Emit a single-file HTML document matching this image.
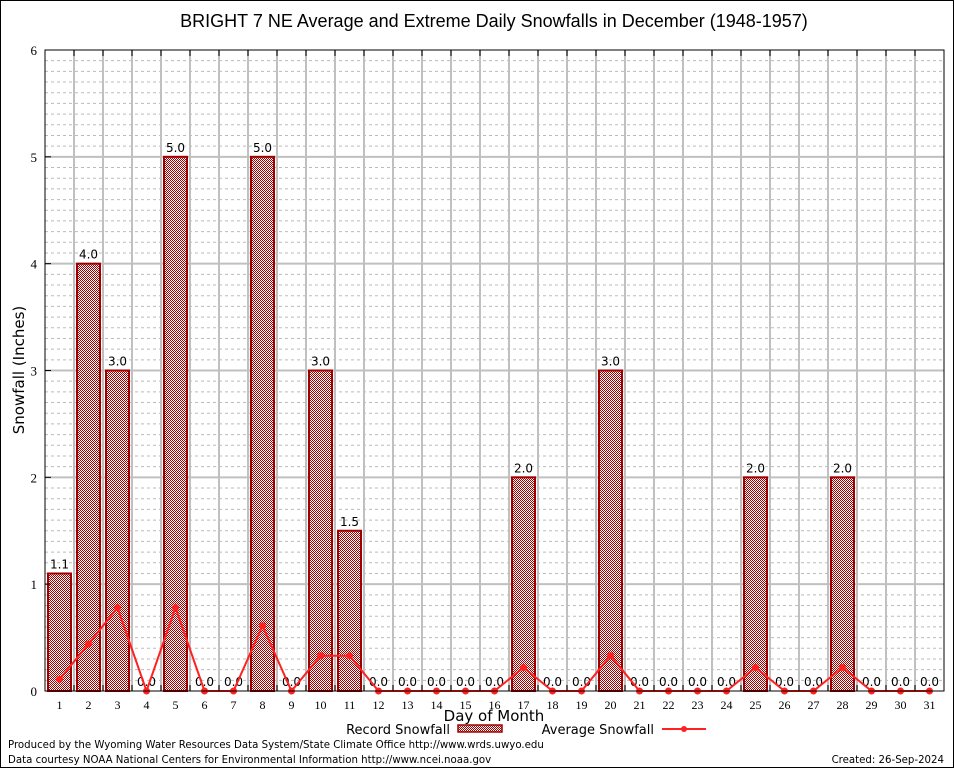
<!DOCTYPE html>
<html><head><meta charset="utf-8"><style>
html,body{margin:0;padding:0;background:#fff;}
svg{display:block;}
text{font-family:"DejaVu Sans","Liberation Sans",sans-serif;}
</style></head><body>
<svg id="chart" width="954" height="768" xmlns="http://www.w3.org/2000/svg">
<defs>
<pattern id="chk" width="2" height="2" patternUnits="userSpaceOnUse">
<rect width="2" height="2" fill="#fff"/><rect width="1" height="1" fill="#a00000"/><rect x="1" y="1" width="1" height="1" fill="#a00000"/>
</pattern>
</defs>
<rect x="0.5" y="0.5" width="953" height="767" fill="#fff" stroke="#000"/>
<text x="494" y="27" font-size="18" text-anchor="middle" style="font-family:'Liberation Sans',sans-serif">BRIGHT 7 NE Average and Extreme Daily Snowfalls in December (1948-1957)</text>
<g id="grid"></g>
<g id="bars"></g>
<g id="line"></g>
<g id="axes"></g>
<text x="24" y="370" font-size="15" text-anchor="middle" transform="rotate(-90 24 370)">Snowfall (Inches)</text>
<text x="494" y="721" font-size="15" text-anchor="middle">Day of Month</text>
<g>
<text x="450" y="734" font-size="13" text-anchor="end">Record Snowfall</text>
<rect x="458" y="725" width="44" height="7" fill="url(#chk)" stroke="#a00000" stroke-width="1.5"/>
<text x="654" y="734" font-size="13" text-anchor="end">Average Snowfall</text>
<line x1="662" y1="729" x2="706" y2="729" stroke="#ff2020" stroke-width="2"/>
<circle cx="684" cy="729" r="3" fill="#ff2020"/>
</g>
<text x="8" y="748" font-size="10.2">Produced by the Wyoming Water Resources Data System/State Climate Office http://www.wrds.uwyo.edu</text>
<text x="8" y="763" font-size="10.2">Data courtesy NOAA National Centers for Environmental Information http://www.ncei.noaa.gov</text>
<text x="944" y="763" font-size="10.2" text-anchor="end">Created: 26-Sep-2024</text>
</svg>
<script>
const days = [1,2,3,4,5,6,7,8,9,10,11,12,13,14,15,16,17,18,19,20,21,22,23,24,25,26,27,28,29,30,31];
const recordSnow = [1.1,4.0,3.0,0,5.0,0,0,5.0,0,3.0,1.5,0,0,0,0,0,2.0,0,0,3.0,0,0,0,0,2.0,0,0,2.0,0,0,0];
const avgSnow = [0.11,0.44,0.78,0,0.78,0,0,0.61,0,0.33,0.33,0,0,0,0,0,0.22,0,0,0.33,0,0,0,0,0.22,0,0,0.22,0,0,0];
const yTicks = [0,1,2,3,4,5,6];

const L=45,R=944,T=50,B=691,YMAX=6;
const step=(R-L)/days.length;
const xc=i=>L+step*(i+0.5);
const y=v=>B-(v/YMAX)*(B-T);
const NS="http://www.w3.org/2000/svg";
function mk(parent,tag,attrs){const e=document.createElementNS(NS,tag);for(const k in attrs)e.setAttribute(k,attrs[k]);document.getElementById(parent).appendChild(e);return e;}

for(let k=1;k<YMAX*10;k++){
  if(k%10===0)continue;
  const g=mk('grid','line',{x1:L,x2:R,y1:y(k/10),y2:y(k/10),stroke:'#bbb','stroke-width':1,'stroke-dasharray':'3,3'});
  
  
}
for(let i=1;i<days.length;i++){
  const g=mk('grid','line',{x1:L+step*i,x2:L+step*i,y1:T,y2:B,stroke:'#c0c0c0','stroke-width':2});
  
  
}
yTicks.forEach(v=>{
  if(v>0&&v<YMAX){
    const g=mk('grid','line',{x1:L,x2:R,y1:y(v),y2:y(v),stroke:'#c0c0c0','stroke-width':2});
    
    
  }
  const t=mk('axes','text',{x:L-8,y:y(v)+5,'font-size':13,'text-anchor':'end',style:"font-family:'Liberation Serif',serif"});
  t.textContent=v;
  
  
  const tk=mk('axes','line',{x1:L,x2:L+6,y1:y(v),y2:y(v),stroke:'#000'});
  
  
});
days.forEach((d,i)=>{
  const v=recordSnow[i];
  if(v>0){
    const b=mk('bars','rect',{x:xc(i)-11.5,y:y(v),width:23,height:B-y(v),fill:'url(#chk)',stroke:'#a00000','stroke-width':2});
    
    
  }
  const t=mk('bars','text',{x:xc(i),y:y(v)-5,'font-size':12,'text-anchor':'middle'});
  t.textContent=v.toFixed(1);
  
  
  const xl=mk('axes','text',{x:xc(i),y:B+18,'font-size':12,'text-anchor':'middle',style:"font-family:'Liberation Serif',serif"});
  xl.textContent=d;
  
  
  const tk=mk('axes','line',{x1:L+step*(i+1),x2:L+step*(i+1),y1:T,y2:T+6,stroke:'#000'});
  
  
  const tb=mk('axes','line',{x1:L+step*(i+1),x2:L+step*(i+1),y1:B,y2:B-6,stroke:'#000'});
  
  
});
const pl=mk('line','polyline',{points:avgSnow.map((v,i)=>xc(i)+','+y(v)).join(' '),fill:'none',stroke:'#ff2020','stroke-width':2});


avgSnow.forEach((v,i)=>{
  const c=mk('line','circle',{cx:xc(i),cy:y(v),r:3.5,fill:'#ff2020'});
  
  
});
const fr=mk('axes','rect',{x:L,y:T,width:R-L,height:B-T,fill:'none',stroke:'#000','stroke-width':1});


</script>
</body></html>
